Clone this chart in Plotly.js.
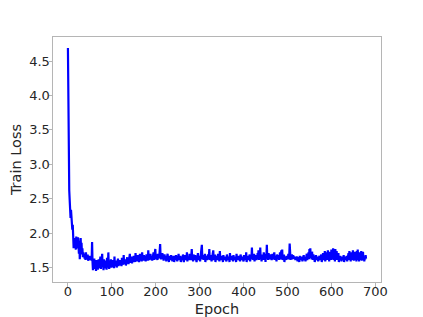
<!DOCTYPE html>
<html>
<head>
<meta charset="utf-8">
<script src="https://cdn.plot.ly/plotly-3.0.1.min.js"></script>
<style>html,body{margin:0;padding:0;background:#fff;}#chart{width:423px;height:317px;}</style>
</head>
<body>
<div id="chart"></div>
<script>
// Train loss per epoch (epochs 0..679)
const lossValues = [
4.69, 3.62, 2.86, 2.62, 2.48, 2.36, 2.22, 2.34, 2.18, 2.24, 2.05, 2.12, 1.86, 1.78, 1.92, 1.80, 1.93, 1.84, 1.76, 1.95,
1.82, 1.90, 1.78, 1.94, 1.85, 1.70, 1.88, 1.62, 1.79, 1.93, 1.74, 1.86, 1.69, 1.78, 1.65, 1.72, 1.66, 1.70, 1.63, 1.68,
1.61, 1.72, 1.64, 1.66, 1.62, 1.69, 1.60, 1.65, 1.63, 1.67, 1.61, 1.64, 1.62, 1.66, 1.60, 1.87, 1.58, 1.46, 1.60, 1.52,
1.63, 1.48, 1.57, 1.54, 1.45, 1.61, 1.50, 1.58, 1.47, 1.55, 1.62, 1.49, 1.56, 1.52, 1.66, 1.48, 1.59, 1.53, 1.70, 1.51,
1.57, 1.46, 1.62, 1.54, 1.49, 1.60, 1.52, 1.58, 1.47, 1.64, 1.55, 1.50, 1.72, 1.53, 1.48, 1.59, 1.51, 1.56, 1.62, 1.50,
1.53, 1.58, 1.51, 1.61, 1.54, 1.49, 1.66, 1.52, 1.57, 1.55, 1.60, 1.50, 1.58, 1.54, 1.63, 1.52, 1.56, 1.59, 1.53, 1.61,
1.55, 1.58, 1.52, 1.64, 1.56, 1.60, 1.54, 1.68, 1.55, 1.59, 1.57, 1.62, 1.53, 1.60, 1.58, 1.65, 1.56, 1.61, 1.55, 1.63,
1.58, 1.70, 1.57, 1.62, 1.59, 1.66, 1.56, 1.63, 1.60, 1.58, 1.67, 1.61, 1.64, 1.58, 1.71, 1.60, 1.65, 1.62, 1.59, 1.68,
1.61, 1.66, 1.58, 1.64, 1.70, 1.60, 1.63, 1.67, 1.59, 1.72, 1.62, 1.65, 1.60, 1.68, 1.63, 1.61, 1.66, 1.59, 1.64, 1.69,
1.62, 1.66, 1.60, 1.75, 1.63, 1.68, 1.61, 1.65, 1.70, 1.62, 1.64, 1.67, 1.60, 1.66, 1.63, 1.72, 1.61, 1.65, 1.68, 1.77,
1.64, 1.62, 1.69, 1.66, 1.61, 1.70, 1.63, 1.67, 1.65, 1.72, 1.84, 1.66, 1.62, 1.68, 1.64, 1.71, 1.63, 1.66, 1.60, 1.65,
1.69, 1.62, 1.67, 1.64, 1.59, 1.66, 1.63, 1.70, 1.62, 1.65, 1.58, 1.67, 1.63, 1.64, 1.61, 1.68, 1.62, 1.66, 1.59, 1.64,
1.62, 1.67, 1.58, 1.65, 1.63, 1.61, 1.68, 1.62, 1.64, 1.59, 1.66, 1.63, 1.70, 1.61, 1.65, 1.62, 1.67, 1.58, 1.64, 1.62,
1.66, 1.61, 1.69, 1.63, 1.58, 1.65, 1.62, 1.68, 1.61, 1.64, 1.63, 1.72, 1.59, 1.66, 1.62, 1.65, 1.61, 1.70, 1.63, 1.64,
1.61, 1.67, 1.77, 1.62, 1.66, 1.59, 1.69, 1.63, 1.65, 1.61, 1.68, 1.62, 1.64, 1.58, 1.66, 1.63, 1.71, 1.61, 1.65, 1.62,
1.67, 1.59, 1.64, 1.69, 1.72, 1.83, 1.65, 1.62, 1.68, 1.61, 1.66, 1.63, 1.70, 1.58, 1.65, 1.62, 1.67, 1.61, 1.64, 1.69,
1.62, 1.66, 1.77, 1.61, 1.65, 1.63, 1.68, 1.59, 1.64, 1.62, 1.71, 1.75, 1.61, 1.66, 1.63, 1.69, 1.58, 1.65, 1.62, 1.67,
1.61, 1.64, 1.70, 1.62, 1.66, 1.59, 1.74, 1.63, 1.65, 1.61, 1.67, 1.62, 1.64, 1.58, 1.68, 1.63, 1.65, 1.61, 1.66, 1.62,
1.64, 1.59, 1.69, 1.63, 1.61, 1.66, 1.62, 1.65, 1.58, 1.71, 1.63, 1.64, 1.61, 1.67, 1.62, 1.65, 1.59, 1.68, 1.63, 1.62,
1.66, 1.61, 1.64, 1.58, 1.70, 1.62, 1.65, 1.63, 1.61, 1.67, 1.62, 1.64, 1.59, 1.69, 1.63, 1.65, 1.61, 1.66, 1.62, 1.64,
1.59, 1.68, 1.63, 1.61, 1.66, 1.62, 1.72, 1.58, 1.65, 1.63, 1.67, 1.61, 1.64, 1.62, 1.69, 1.59, 1.66, 1.63, 1.65, 1.79,
1.62, 1.67, 1.61, 1.64, 1.70, 1.59, 1.66, 1.63, 1.68, 1.61, 1.65, 1.62, 1.71, 1.64, 1.75, 1.61, 1.66, 1.63, 1.79, 1.62,
1.65, 1.59, 1.69, 1.63, 1.66, 1.61, 1.72, 1.64, 1.62, 1.68, 1.58, 1.70, 1.65, 1.83, 1.63, 1.67, 1.61, 1.71, 1.64, 1.66,
1.62, 1.69, 1.63, 1.67, 1.61, 1.65, 1.70, 1.62, 1.66, 1.64, 1.72, 1.61, 1.67, 1.63, 1.65, 1.59, 1.69, 1.62, 1.66, 1.63,
1.68, 1.61, 1.64, 1.72, 1.62, 1.66, 1.75, 1.63, 1.76, 1.61, 1.65, 1.62, 1.69, 1.58, 1.66, 1.63, 1.64, 1.61, 1.67, 1.62,
1.65, 1.63, 1.70, 1.62, 1.66, 1.85, 1.64, 1.61, 1.67, 1.63, 1.69, 1.62, 1.65, 1.68, 1.64, 1.66, 1.63, 1.65, 1.61, 1.64,
1.62, 1.66, 1.63, 1.59, 1.65, 1.62, 1.64, 1.58, 1.67, 1.62, 1.65, 1.61, 1.63, 1.66, 1.59, 1.64, 1.62, 1.68, 1.61, 1.65,
1.63, 1.59, 1.66, 1.62, 1.70, 1.61, 1.65, 1.63, 1.72, 1.62, 1.77, 1.68, 1.78, 1.64, 1.70, 1.62, 1.73, 1.66, 1.61, 1.69,
1.63, 1.67, 1.58, 1.65, 1.62, 1.68, 1.61, 1.64, 1.63, 1.66, 1.59, 1.65, 1.62, 1.67, 1.61, 1.64, 1.62, 1.69, 1.58, 1.66,
1.63, 1.71, 1.61, 1.65, 1.62, 1.74, 1.59, 1.68, 1.64, 1.72, 1.61, 1.66, 1.75, 1.62, 1.70, 1.59, 1.73, 1.64, 1.67, 1.61,
1.76, 1.62, 1.70, 1.64, 1.78, 1.61, 1.68, 1.72, 1.59, 1.77, 1.63, 1.66, 1.74, 1.61, 1.69, 1.64, 1.71, 1.58, 1.65, 1.62,
1.67, 1.61, 1.64, 1.59, 1.66, 1.62, 1.65, 1.61, 1.68, 1.58, 1.63, 1.66, 1.61, 1.64, 1.62, 1.67, 1.59, 1.65, 1.63, 1.71,
1.61, 1.74, 1.63, 1.66, 1.59, 1.72, 1.62, 1.68, 1.61, 1.75, 1.64, 1.60, 1.70, 1.62, 1.73, 1.61, 1.67, 1.59, 1.74, 1.63,
1.76, 1.61, 1.69, 1.59, 1.72, 1.62, 1.66, 1.61, 1.74, 1.60, 1.68, 1.62, 1.73, 1.61, 1.65, 1.59, 1.66, 1.62, 1.68, 1.63
];
const epochs = lossValues.map((_, i) => i);
const xTickValues = [0, 100, 200, 300, 400, 500, 600, 700];
const yTickValues = [1.5, 2.0, 2.5, 3.0, 3.5, 4.0, 4.5];
const yTickLabels = ["1.5", "2.0", "2.5", "3.0", "3.5", "4.0", "4.5"];

const fam = "DejaVu Sans, sans-serif";
const txtColor = "#262626";
const axisCommon = {
  showgrid: false, zeroline: false, showline: true, linecolor: "#b5b5b5", linewidth: 1,
  mirror: true, ticks: "outside", ticklen: 3.5, tickcolor: "#b5b5b5", tickwidth: 1,
  tickfont: {family: fam, size: 13, color: txtColor}
};
Plotly.newPlot("chart", [{
  x: epochs, y: lossValues, type: "scatter", mode: "lines",
  line: {color: "#0000ff", width: 2.2}, hoverinfo: "skip"
}], {
  width: 423, height: 317,
  margin: {l: 53, r: 42, t: 37, b: 35, pad: 0},
  paper_bgcolor: "#ffffff", plot_bgcolor: "#ffffff",
  showlegend: false,
  font: {family: fam, color: txtColor},
  xaxis: Object.assign({}, axisCommon, {
    automargin: false,
    range: [-34, 713], tickvals: xTickValues, ticklabelstandoff: -6,
    title: {text: "Epoch", font: {family: fam, size: 14.5, color: txtColor}}
  }),
  yaxis: Object.assign({}, axisCommon, {
    automargin: true,
    range: [1.29, 4.85], tickvals: yTickValues, ticktext: yTickLabels, ticklabelstandoff: -4,
    title: {text: "Train Loss", font: {family: fam, size: 14.5, color: txtColor}, standoff: 4}
  })
}, {staticPlot: true, displayModeBar: false});
</script>
</body>
</html>
